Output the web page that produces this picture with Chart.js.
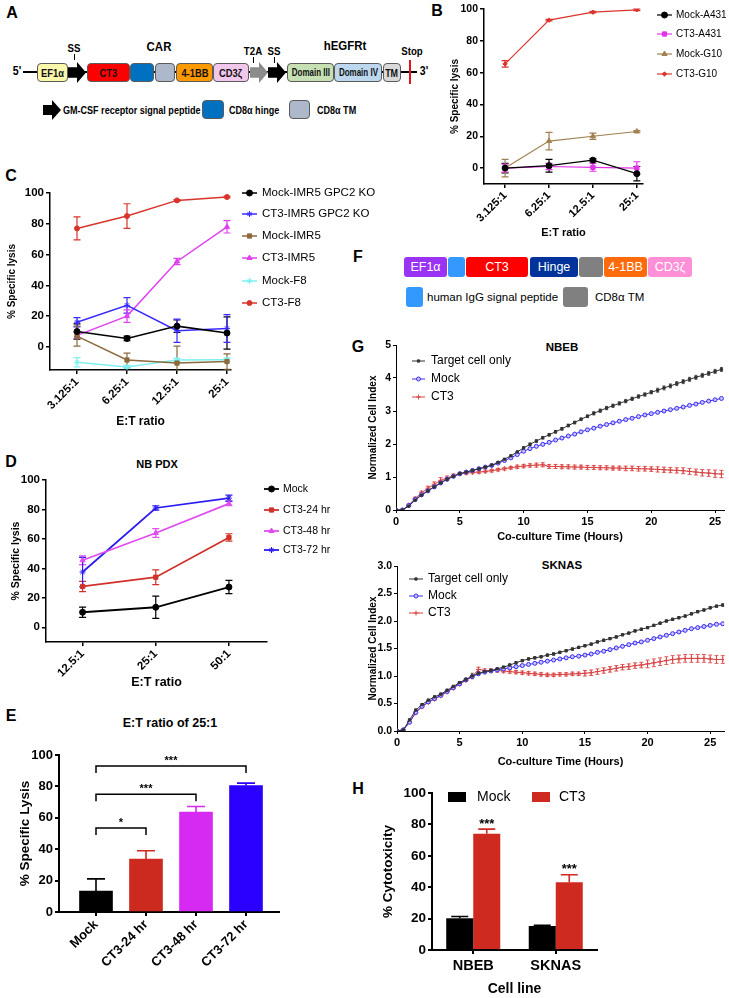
<!DOCTYPE html>
<html>
<head>
<meta charset="utf-8">
<script src="https://cdn.jsdelivr.net/npm/chart.js@4.4.1/dist/chart.umd.min.js"></script>
<style>
  body { margin: 0; background: #fff; }
  #fig { position: relative; width: 729px; height: 998px; overflow: hidden; background: #fff;
         font-family: Arial, "Liberation Sans", sans-serif; color: #000; }
</style>
</head>
<body>
<div id="fig"></div>
<script>
// ---------- data ----------
// B: cytotoxicity vs A431 / G10
const bRatios = ['3.125:1', '6.25:1', '12.5:1', '25:1'];
const bNames = ['Mock-A431', 'CT3-A431', 'Mock-G10', 'CT3-G10'];
const bMockA431 = [0, 1.5, 5, -3.5];
const bMockA431Err = [3, 4, 1, 4.5];
const bCT3A431 = [0, 1, 0.5, 0];
const bCT3A431Err = [2.5, 2, 2.5, 4];
const bMockG10 = [0, 17, 20, 23];
const bMockG10Err = [5.5, 5.5, 2, 0.5];
const bCT3G10 = [65.5, 93, 98, 99.5];
const bCT3G10Err = [2, 0.5, 0.5, 0.5];
const bTicks = [0, 20, 40, 60, 80, 100];

// C: IMR5 / GPC2 KO / F8
const cRatios = ['3.125:1', '6.25:1', '12.5:1', '25:1'];
const cNames = ['Mock-IMR5 GPC2 KO', 'CT3-IMR5 GPC2 KO', 'Mock-IMR5', 'CT3-IMR5', 'Mock-F8', 'CT3-F8'];
const cMockKO = [10, 5.5, 13.5, 9];
const cMockKOErr = [5, 1.5, 4, 10.5];
const cCT3KO = [16, 27, 10.5, 12];
const cCT3KOErr = [3, 5, 7.5, 9];
const cMockIMR5 = [7, -8.5, -10.5, -9.5];
const cMockIMR5Err = [6.5, 4.5, 11, 5];
const cCT3IMR5 = [7.5, 20, 55.5, 78];
const cCT3IMR5Err = [2, 4, 2, 4];
const cMockF8 = [-10, -13, -8.5, -8.3];
const cMockF8Err = [3, 1, 1, 1];
const cCT3F8 = [77, 85, 95.2, 97.4];
const cCT3F8Err = [7.5, 8, 0.5, 0.5];
const cTicks = [0, 20, 40, 60, 80, 100];

// D: NB PDX
const dRatios = ['12.5:1', '25:1', '50:1'];
const dNames = ['Mock', 'CT3-24 hr', 'CT3-48 hr', 'CT3-72 hr'];
const dMock = [10.2, 13.6, 27.3];
const dMockErr = [3.5, 7.5, 4.5];
const dCT3h24 = [27.7, 34, 61];
const dCT3h24Err = [3.5, 5, 2.5];
const dCT3h48 = [45.5, 64, 84];
const dCT3h48Err = [3, 3, 1.5];
const dCT3h72 = [37.5, 81, 87.7];
const dCT3h72Err = [10, 1.5, 2];
const dTicks = [0, 20, 40, 60, 80, 100];

// E: E:T ratio of 25:1
const eGroups = ['Mock', 'CT3-24 hr', 'CT3-48 hr', 'CT3-72 hr'];
const eLysis = [13.3, 33.7, 63.6, 80.5];
const eLysisErr = [7.8, 5.3, 3.6, 1.6];
const eSigPairs = [[0, 1], [0, 2], [0, 3]];
const eSigLevels = [53.5, 75, 93];
const eSigMarks = ['*', '***', '***'];
const eTicks = [0, 20, 40, 60, 80, 100];

// G: real-time cell index
const gNames = ['Target cell only', 'Mock', 'CT3'];
const gTimeTicks = [0, 5, 10, 15, 20, 25];
const nbebTime = [0, 0.5, 1, 1.5, 2, 2.5, 3, 3.5, 4, 4.5, 5, 5.5, 6, 6.5, 7, 7.5, 8, 8.5, 9, 9.5,
  10, 10.5, 11, 11.5, 12, 12.5, 13, 13.5, 14, 14.5, 15, 15.5, 16, 16.5, 17, 17.5, 18, 18.5, 19, 19.5,
  20, 20.5, 21, 21.5, 22, 22.5, 23, 23.5, 24, 24.5, 25, 25.5];
const nbebTarget = [0, 0, 0.12, 0.3, 0.45, 0.58, 0.7, 0.82, 0.93, 1.02, 1.1, 1.15, 1.2, 1.25, 1.3, 1.36, 1.44, 1.54, 1.64, 1.76,
  1.88, 1.99, 2.09, 2.19, 2.28, 2.37, 2.46, 2.56, 2.65, 2.75, 2.84, 2.93, 3.01, 3.09, 3.16, 3.23, 3.3, 3.37, 3.44, 3.5,
  3.57, 3.63, 3.7, 3.76, 3.83, 3.89, 3.96, 4.02, 4.08, 4.14, 4.2, 4.26];
const nbebTargetErr = [0, 0, 0.02, 0.02, 0.02, 0.02, 0.02, 0.02, 0.02, 0.02, 0.02, 0.02, 0.02, 0.02, 0.02, 0.02, 0.02, 0.02, 0.02, 0.02,
  0.04, 0.04, 0.04, 0.04, 0.04, 0.04, 0.04, 0.04, 0.04, 0.04, 0.04, 0.05, 0.05, 0.05, 0.05, 0.05, 0.05, 0.05, 0.05, 0.05,
  0.05, 0.06, 0.06, 0.06, 0.06, 0.06, 0.06, 0.06, 0.06, 0.06, 0.06, 0.06];
const nbebMock = [0, 0, 0.14, 0.32, 0.46, 0.58, 0.7, 0.82, 0.93, 1.02, 1.1, 1.15, 1.2, 1.25, 1.3, 1.35, 1.42, 1.5, 1.58, 1.68,
  1.78, 1.86, 1.93, 1.99, 2.05, 2.12, 2.18, 2.24, 2.3, 2.37, 2.43, 2.48, 2.54, 2.59, 2.64, 2.69, 2.74, 2.78, 2.83, 2.88,
  2.92, 2.96, 3.0, 3.04, 3.08, 3.12, 3.17, 3.21, 3.26, 3.3, 3.34, 3.38];
const nbebMockErr = [0, 0, 0.02, 0.02, 0.02, 0.02, 0.02, 0.02, 0.02, 0.02, 0.02, 0.02, 0.02, 0.02, 0.02, 0.02, 0.02, 0.02, 0.02, 0.02,
  0.03, 0.03, 0.03, 0.03, 0.03, 0.03, 0.03, 0.03, 0.03, 0.03, 0.03, 0.03, 0.03, 0.03, 0.03, 0.03, 0.03, 0.03, 0.03, 0.03,
  0.03, 0.03, 0.03, 0.03, 0.03, 0.03, 0.03, 0.03, 0.03, 0.03, 0.03, 0.03];
const nbebCT3 = [0, 0, 0.15, 0.35, 0.52, 0.66, 0.78, 0.9, 0.97, 1.04, 1.1, 1.12, 1.14, 1.15, 1.17, 1.19, 1.22, 1.25, 1.28, 1.31,
  1.33, 1.35, 1.36, 1.37, 1.32, 1.32, 1.31, 1.31, 1.3, 1.3, 1.29, 1.29, 1.28, 1.28, 1.27, 1.27, 1.26, 1.26, 1.25, 1.25,
  1.24, 1.23, 1.22, 1.21, 1.2, 1.19, 1.17, 1.15, 1.13, 1.12, 1.1, 1.09];
const nbebCT3Err = [0, 0, 0.03, 0.04, 0.05, 0.06, 0.07, 0.08, 0.06, 0.05, 0.04, 0.04, 0.04, 0.04, 0.04, 0.04, 0.04, 0.04, 0.04, 0.05,
  0.05, 0.05, 0.06, 0.06, 0.06, 0.06, 0.06, 0.06, 0.06, 0.06, 0.06, 0.06, 0.06, 0.06, 0.06, 0.06, 0.07, 0.07, 0.07, 0.07,
  0.07, 0.08, 0.08, 0.08, 0.08, 0.09, 0.09, 0.09, 0.1, 0.1, 0.11, 0.11];
const nbebTicks = [0, 1, 2, 3, 4, 5];

const sknasTime = [0, 0.5, 1, 1.5, 2, 2.5, 3, 3.5, 4, 4.5, 5, 5.5, 6, 6.5, 7, 7.5, 8, 8.5, 9, 9.5,
  10, 10.5, 11, 11.5, 12, 12.5, 13, 13.5, 14, 14.5, 15, 15.5, 16, 16.5, 17, 17.5, 18, 18.5, 19, 19.5,
  20, 20.5, 21, 21.5, 22, 22.5, 23, 23.5, 24, 24.5, 25, 25.5, 26];
const sknasTarget = [0, 0.02, 0.2, 0.38, 0.48, 0.56, 0.62, 0.67, 0.74, 0.81, 0.88, 0.94, 1.0, 1.05, 1.08, 1.1, 1.13, 1.16, 1.2, 1.24,
  1.28, 1.31, 1.33, 1.35, 1.38, 1.4, 1.43, 1.46, 1.49, 1.52, 1.55, 1.58, 1.62, 1.65, 1.68, 1.71, 1.75, 1.78, 1.82, 1.85,
  1.88, 1.92, 1.96, 2.0, 2.03, 2.06, 2.09, 2.13, 2.17, 2.2, 2.24, 2.27, 2.29];
const sknasTargetErr = [0, 0, 0.02, 0.02, 0.02, 0.02, 0.02, 0.02, 0.02, 0.02, 0.02, 0.02, 0.05, 0.03, 0.02, 0.02, 0.02, 0.02, 0.02, 0.02,
  0.02, 0.02, 0.02, 0.02, 0.02, 0.02, 0.02, 0.02, 0.02, 0.02, 0.02, 0.02, 0.02, 0.02, 0.02, 0.02, 0.02, 0.02, 0.02, 0.02,
  0.02, 0.02, 0.02, 0.02, 0.02, 0.02, 0.02, 0.02, 0.02, 0.02, 0.02, 0.02, 0.02];
const sknasMock = [0, 0.02, 0.16, 0.34, 0.45, 0.53, 0.59, 0.65, 0.72, 0.79, 0.86, 0.93, 0.99, 1.04, 1.07, 1.09, 1.11, 1.13, 1.15, 1.17,
  1.19, 1.21, 1.23, 1.25, 1.27, 1.29, 1.31, 1.33, 1.35, 1.36, 1.38, 1.4, 1.43, 1.45, 1.48, 1.51, 1.54, 1.57, 1.6, 1.62,
  1.65, 1.68, 1.71, 1.74, 1.77, 1.8, 1.83, 1.86, 1.88, 1.9, 1.92, 1.94, 1.95];
const sknasMockErr = [0, 0, 0.02, 0.02, 0.02, 0.02, 0.02, 0.02, 0.02, 0.02, 0.02, 0.02, 0.02, 0.02, 0.02, 0.02, 0.02, 0.02, 0.02, 0.02,
  0.02, 0.02, 0.02, 0.02, 0.02, 0.02, 0.02, 0.02, 0.02, 0.02, 0.02, 0.02, 0.02, 0.02, 0.02, 0.02, 0.02, 0.02, 0.02, 0.02,
  0.02, 0.02, 0.02, 0.02, 0.02, 0.02, 0.02, 0.02, 0.02, 0.02, 0.02, 0.02, 0.02];
const sknasCT3 = [0, 0.02, 0.16, 0.33, 0.44, 0.52, 0.58, 0.64, 0.71, 0.78, 0.85, 0.92, 0.99, 1.12, 1.1, 1.1, 1.1, 1.09, 1.08, 1.07,
  1.06, 1.05, 1.04, 1.03, 1.02, 1.02, 1.03, 1.03, 1.04, 1.04, 1.05, 1.06, 1.08, 1.1, 1.12, 1.14, 1.16, 1.17, 1.19, 1.2,
  1.22, 1.24, 1.26, 1.28, 1.3, 1.31, 1.32, 1.32, 1.32, 1.32, 1.31, 1.3, 1.3];
const sknasCT3Err = [0, 0, 0.02, 0.02, 0.02, 0.02, 0.02, 0.02, 0.02, 0.02, 0.02, 0.02, 0.02, 0.04, 0.03, 0.03, 0.03, 0.03, 0.03, 0.03,
  0.03, 0.03, 0.03, 0.03, 0.03, 0.03, 0.03, 0.03, 0.03, 0.03, 0.05, 0.05, 0.05, 0.05, 0.05, 0.05, 0.05, 0.05, 0.05, 0.05,
  0.07, 0.07, 0.07, 0.07, 0.07, 0.07, 0.07, 0.07, 0.07, 0.07, 0.07, 0.07, 0.07];
const sknasTicks = [0, 0.5, 1, 1.5, 2, 2.5, 3];

// H: cytotoxicity by cell line
const hLines = ['NBEB', 'SKNAS'];
const hNames = ['Mock', 'CT3'];
const hMock = [20.2, 15.3];
const hMockErr = [1.1, 0.5];
const hCT3 = [74, 43.2];
const hCT3Err = [3, 4.7];
const hStars = ['***', '***'];
const hTicks = [0, 20, 40, 60, 80, 100];

// ---------- helpers ----------
const F = 'Arial, "Liberation Sans", sans-serif';
const fig = document.getElementById('fig');

function put(css, html) {
  const d = document.createElement('div');
  d.style.cssText = 'position:absolute;' + css;
  if (html != null) d.innerHTML = html;
  fig.appendChild(d);
  return d;
}
function text(cx, cy, str, font, extra) {
  return put(`left:${cx}px;top:${cy}px;transform:translate(-50%,-50%);white-space:nowrap;line-height:1;font:${font};` + (extra || ''), str);
}
function canvas(x, y, w, h) {
  const c = document.createElement('canvas');
  c.width = w; c.height = h;
  c.style.cssText = `position:absolute;left:${x}px;top:${y}px;width:${w}px;height:${h}px`;
  fig.appendChild(c);
  return c;
}

// error bars (both ways, or only up for bars)
const errorBars = {
  id: 'errorBars',
  beforeDatasetsDraw(chart) {
    const ctx = chart.ctx, area = chart.chartArea;
    ctx.save();
    ctx.beginPath();
    ctx.rect(area.left - 20, area.top - 10, area.right - area.left + 40, area.bottom - area.top + 10);
    ctx.clip();
    chart.data.datasets.forEach((ds, i) => {
      if (!ds.errors) return;
      const meta = chart.getDatasetMeta(i);
      const ys = chart.scales[meta.yAxisID];
      ctx.lineWidth = ds.errorWidth || 1;
      meta.data.forEach((el, j) => {
        const e = ds.errors[j];
        if (!e) return;
        const raw = ds.data[j];
        const v = typeof raw === 'object' ? raw.y : raw;
        const top = ys.getPixelForValue(v + e);
        const bot = ys.getPixelForValue(ds.errorUp ? v : v - e);
        const cw = ds.capHalf || 3;
        ctx.strokeStyle = ds.errorColors ? ds.errorColors[j] : (ds.errorColor || ds.borderColor);
        ctx.beginPath();
        ctx.moveTo(el.x, top); ctx.lineTo(el.x, bot);
        ctx.moveTo(el.x - cw, top); ctx.lineTo(el.x + cw, top);
        if (!ds.errorUp) { ctx.moveTo(el.x - cw, bot); ctx.lineTo(el.x + cw, bot); }
        ctx.stroke();
      });
    });
    ctx.restore();
  }
};

// legend drawn at fixed spots, GraphPad style (line + marker) or boxes
const sideLegend = {
  id: 'sideLegend',
  afterDraw(chart, args, o) {
    if (!o || !o.ys) return;
    const ctx = chart.ctx;
    ctx.save();
    ctx.font = `${o.size}px ${F}`;
    ctx.textBaseline = 'middle';
    ctx.textAlign = 'left';
    chart.data.datasets.forEach((ds, i) => {
      const x = o.xs ? o.xs[i] : o.x;
      const tx = o.txs ? o.txs[i] : o.tx;
      const y = o.ys.length > 1 ? o.ys[i] : o.ys[0];
      if (o.box) {
        ctx.fillStyle = ds.backgroundColor;
        ctx.fillRect(x, y - o.boxH / 2, o.len, o.boxH);
      } else {
        ctx.strokeStyle = ds.borderColor;
        ctx.lineWidth = ds.borderWidth;
        ctx.beginPath(); ctx.moveTo(x, y); ctx.lineTo(x + o.len, y); ctx.stroke();
        ctx.fillStyle = ds.pointBackgroundColor;
        ctx.strokeStyle = ds.pointBorderColor;
        ctx.lineWidth = 1;
        Chart.helpers.drawPoint(ctx, { pointStyle: ds.pointStyle, rotation: 0, radius: ds.pointRadius, borderWidth: 1 }, x + o.len / 2, y);
      }
      ctx.fillStyle = '#000';
      ctx.fillText(ds.label, tx, y);
    });
    ctx.restore();
  }
};

// significance brackets / stars
const sigMarks = {
  id: 'sigMarks',
  afterDatasetsDraw(chart, args, o) {
    if (!o || !o.marks) return;
    const ctx = chart.ctx, x = chart.scales.x, y = chart.scales.y;
    ctx.save();
    ctx.strokeStyle = '#000'; ctx.fillStyle = '#000'; ctx.lineWidth = 1.5;
    ctx.font = `bold ${o.size}px ${F}`;
    ctx.textAlign = 'center'; ctx.textBaseline = 'alphabetic';
    if (o.pairs) {
      o.pairs.forEach((p, i) => {
        const x1 = x.getPixelForValue(p[0]), x2 = x.getPixelForValue(p[1]);
        const yl = y.getPixelForValue(o.levels[i]), yt = y.getPixelForValue(o.levels[i] - o.drop);
        ctx.beginPath();
        ctx.moveTo(x1, yt); ctx.lineTo(x1, yl); ctx.lineTo(x2, yl); ctx.lineTo(x2, yt);
        ctx.stroke();
        ctx.fillText(o.marks[i], (x1 + x2) / 2, yl - 2);
      });
    } else {
      const ds = chart.data.datasets[o.dataset], meta = chart.getDatasetMeta(o.dataset);
      meta.data.forEach((el, j) => {
        const top = y.getPixelForValue(ds.data[j] + ds.errors[j]);
        ctx.fillText(o.marks[j], el.x, top - 1.5);
      });
    }
    ctx.restore();
  }
};

Chart.register(errorBars, sideLegend, sigMarks);
Chart.defaults.font.family = F;
Chart.defaults.color = '#000';

function bold(size) { return { family: F, size: size, weight: 'bold' }; }

function valueAxis(c) {
  return {
    type: 'linear', min: c.min, max: c.max,
    afterBuildTicks: s => { s.ticks = c.ticks.map(v => ({ value: v })); },
    afterFit: s => { s.width = c.width; },
    border: { display: true, color: '#000', width: c.line },
    grid: { drawOnChartArea: false, drawTicks: true, tickLength: c.tickLen || 4, color: '#000', lineWidth: c.line },
    ticks: { color: '#000', padding: 2, font: bold(c.tickSize), callback: c.fmt || (v => v) },
    title: { display: true, text: c.title, color: '#000', padding: 0, font: bold(c.titleSize) }
  };
}

function indexAxis(c) {
  return {
    type: 'linear', min: c.min, max: c.max, offset: false,
    afterBuildTicks: s => { s.ticks = c.labels.map((_, i) => ({ value: i })); },
    afterFit: s => { s.height = c.height; },
    border: { display: true, color: '#000', width: c.line },
    grid: { offset: false, drawOnChartArea: false, drawTicks: true, tickLength: 4, color: '#000', lineWidth: c.line },
    ticks: { autoSkip: false, minRotation: 45, maxRotation: 45, padding: 1, color: '#000', font: bold(c.tickSize),
             callback: v => c.labels[v] },
    title: c.title ? { display: true, text: c.title, color: '#000', padding: 0, font: bold(c.titleSize) } : { display: false }
  };
}

function timeAxis(max, height) {
  return {
    type: 'linear', min: 0, max: max,
    afterBuildTicks: s => { s.ticks = gTimeTicks.map(v => ({ value: v })); },
    afterFit: s => { s.height = height; },
    border: { display: true, color: '#000', width: 1 },
    grid: { drawOnChartArea: false, drawTicks: true, tickLength: 3, color: '#000', lineWidth: 1 },
    ticks: { autoSkip: false, maxRotation: 0, padding: 2, color: '#000', font: bold(11) },
    title: { display: true, text: 'Co-culture Time (Hours)', color: '#000', padding: 0, font: bold(11) }
  };
}

function series(label, xs, ys, errs, color, style, extra) {
  return Object.assign({
    label: label,
    data: ys.map((v, i) => ({ x: xs[i], y: v })),
    errors: errs,
    borderColor: color, backgroundColor: color,
    pointBackgroundColor: color, pointBorderColor: color,
    pointStyle: style, pointRadius: 3, pointBorderWidth: 1,
    borderWidth: 1.5, tension: 0, capHalf: 3.5, errorWidth: 1.2
  }, extra || {});
}

function lineChart(cv, pad, datasets, x, y, legend) {
  return new Chart(cv, {
    type: 'line',
    data: { datasets: datasets },
    options: {
      responsive: false, animation: false, devicePixelRatio: 1,
      layout: { padding: pad },
      plugins: { legend: { display: false }, tooltip: { enabled: false }, sideLegend: legend },
      scales: { x: x, y: y }
    }
  });
}

// ---------- panel letters & titles ----------
const LET = `bold 16px ${F}`;
text(12, 13, 'A', LET); text(437, 11, 'B', LET); text(11, 176, 'C', LET); text(11, 462, 'D', LET);
text(11, 716, 'E', LET); text(358, 257, 'F', LET); text(358, 347, 'G', LET); text(358, 789, 'H', LET);
text(157, 464, 'NB PDX', `bold 11px ${F}`);
text(170, 723, 'E:T ratio of 25:1', `bold 12.5px ${F}`);
text(562, 347, 'NBEB', `bold 11.5px ${F}`);
text(562, 565, 'SKNAS', `bold 11.5px ${F}`);

// ---------- panel A: construct diagram ----------
function part(x, y, w, bg, lbl, size, squeeze) {
  put(`left:${x}px;top:${y}px;width:${w}px;height:19px;box-sizing:border-box;background:${bg};border:1px solid #5b5b5b;border-radius:4px;` +
      `display:flex;align-items:center;justify-content:center;font:bold ${size || 11}px ${F};color:#111;overflow:visible`,
      lbl ? `<span style="display:inline-block;transform:scaleX(${squeeze || .85});white-space:nowrap">${lbl}</span>` : '');
}
function arrow(x, y, w, h, bg) {
  put(`left:${x}px;top:${y}px;width:${w}px;height:${h}px;background:${bg};clip-path:polygon(0 25%,50% 25%,50% 0,100% 50%,50% 100%,50% 75%,0 75%)`);
}
function cond(cx, cy, str, size) {
  text(cx, cy, `<span style="display:inline-block;transform:scaleX(.88)">${str}</span>`, `bold ${size}px ${F}`);
}
function condLeft(x, cy, str) {
  text(x, cy, `<span style="display:inline-block;transform:scaleX(.86);transform-origin:left center">${str}</span>`,
       `bold 10.5px ${F}`, 'transform:translateY(-50%)');
}
put('left:23px;top:71px;width:394px;height:2px;background:#000');
cond(17, 71, "5'", 12); cond(424, 71, "3'", 12);
part(37, 63, 31, '#fbf8ab', 'EF1α');
arrow(68, 62, 18, 21, '#000');
part(87, 63, 43, '#ff0000', 'CT3');
part(130, 63, 24, '#0070c0', '');
part(155, 63, 20, '#adb9ca', '');
part(176, 63, 37, '#ff9900', '4-1BB');
part(213, 63, 36, '#f1c8ec', 'CD3ζ');
arrow(250, 62, 18, 21, '#8c8c8c');
arrow(268, 62, 18, 21, '#000');
part(287, 63, 47, '#c6e0b4', 'Domain III', 10, .8);
part(334, 63, 48, '#bdd7ee', 'Domain IV', 10, .8);
part(383, 63, 18, '#d9d9d9', 'TM', 10.5, .85);
put('left:409px;top:60px;width:2px;height:24px;background:#e8141b');
cond(74, 48, 'SS', 11); put('left:74px;top:54px;width:1px;height:6px;background:#000');
cond(159, 46, 'CAR', 13);
cond(253, 51, 'T2A', 11); put('left:253px;top:57px;width:1px;height:6px;background:#000');
cond(274, 51, 'SS', 11); put('left:274px;top:57px;width:1px;height:6px;background:#000');
cond(345, 45, 'hEGFRt', 13);
cond(412, 51, 'Stop', 11);
arrow(43, 100, 18, 20, '#000');
condLeft(63, 110, 'GM-CSF receptor signal peptide');
part(202, 100, 22, '#0070c0', '');
condLeft(229, 110, 'CD8α hinge');
part(289, 100, 21, '#adb9ca', '');
condLeft(317, 110, 'CD8α TM');

// ---------- panel F: second construct ----------
function fbox(x, w, bg, lbl) {
  put(`left:${x}px;top:257px;width:${w}px;height:20px;background:${bg};border-radius:3px;display:flex;align-items:center;` +
      `justify-content:center;color:#fff;font:12.5px ${F};white-space:nowrap`, lbl);
}
fbox(404, 43, '#9b33f5', 'EF1α');
fbox(448, 17, '#3399ff', '');
fbox(466, 62, '#ff0000', 'CT3');
fbox(530, 48, '#003399', 'Hinge');
fbox(579, 24, '#808080', '');
fbox(604, 43, '#ff6a0a', '4-1BB');
fbox(648, 44, '#ff8fd6', 'CD3ζ');
put('left:406px;top:287px;width:17px;height:20px;background:#3399ff;border-radius:3px');
text(427, 297, 'human IgG signal peptide', `11.5px ${F}`, 'transform:translateY(-50%)');
put('left:563px;top:287px;width:25px;height:20px;background:#808080;border-radius:3px');
text(595, 297, 'CD8α TM', `11.5px ${F}`, 'transform:translateY(-50%)');

// ---------- panel B ----------
const bIdx = bRatios.map((_, i) => i);
lineChart(canvas(449, 0, 280, 240), { left: 0, top: 9, right: 86, bottom: 0 }, [
  series(bNames[0], bIdx, bMockA431, bMockA431Err, '#000000', 'circle', { borderWidth: 1.2 }),
  series(bNames[1], bIdx, bCT3A431, bCT3A431Err, '#e233e8', 'rect', { borderWidth: 1.2 }),
  series(bNames[2], bIdx, bMockG10, bMockG10Err, '#a08050', 'triangle', { borderWidth: 1.2 }),
  series(bNames[3], bIdx, bCT3G10, bCT3G10Err, '#d9342b', 'rectRot', { borderWidth: 1.2, pointRadius: 2.2 })
], indexAxis({ labels: bRatios, min: -0.48, max: 3.14, height: 56, line: 1.5, tickSize: 11, title: 'E:T ratio', titleSize: 11 }),
   valueAxis({ min: -10, max: 100, ticks: bTicks, width: 35, line: 1.5, tickSize: 10.5, title: '% Specific lysis', titleSize: 10 }),
   { x: 208, len: 15, tx: 227, ys: [15, 34, 54, 74], size: 10 });

// ---------- panel C ----------
const cIdx = cRatios.map((_, i) => i);
lineChart(canvas(0, 165, 380, 264), { left: 6, top: 28, right: 149, bottom: 0 }, [
  series(cNames[0], cIdx, cMockKO, cMockKOErr, '#000000', 'circle'),
  series(cNames[1], cIdx, cCT3KO, cCT3KOErr, '#3b2bff', 'star'),
  series(cNames[2], cIdx, cMockIMR5, cMockIMR5Err, '#8c6a3c', 'rect'),
  series(cNames[3], cIdx, cCT3IMR5, cCT3IMR5Err, '#e040f0', 'triangle'),
  series(cNames[4], cIdx, cMockF8, cMockF8Err, '#7ff0f0', 'star'),
  series(cNames[5], cIdx, cCT3F8, cCT3F8Err, '#d9342b', 'circle', { pointRadius: 2.5 })
], indexAxis({ labels: cRatios, min: -0.54, max: 3.08, height: 59, line: 1.5, tickSize: 11.5, title: 'E:T ratio', titleSize: 12 }),
   valueAxis({ min: -15, max: 100, ticks: cTicks, width: 44, line: 1.5, tickSize: 11.5, title: '% Specific lysis', titleSize: 10 }),
   { x: 242, len: 15, tx: 262, ys: [28, 49, 71, 93, 116, 138], size: 11.5 });

// ---------- panel D ----------
const dIdx = dRatios.map((_, i) => i);
lineChart(canvas(0, 470, 380, 220), { left: 10, top: 10, right: 113, bottom: 0 }, [
  series(dNames[0], dIdx, dMock, dMockErr, '#000000', 'circle', { borderWidth: 1.8 }),
  series(dNames[1], dIdx, dCT3h24, dCT3h24Err, '#d0322a', 'rect', { borderWidth: 1.8 }),
  series(dNames[2], dIdx, dCT3h48, dCT3h48Err, '#e04cf0', 'triangle', { borderWidth: 1.8 }),
  series(dNames[3], dIdx, dCT3h72, dCT3h72Err, '#2d1cf0', 'star', { borderWidth: 1.8 })
], indexAxis({ labels: dRatios, min: -0.5, max: 2.52, height: 48, line: 1.5, tickSize: 11.5, title: 'E:T ratio', titleSize: 12.5 }),
   valueAxis({ min: -10, max: 100, ticks: dTicks, width: 36, line: 1.5, tickSize: 11.5, title: '% Specific lysis', titleSize: 10.5 }),
   { x: 264, len: 15, tx: 283, ys: [19, 40, 61, 80], size: 10.5 });

// ---------- panel E ----------
const eColors = ['#000000', '#cc2a1f', '#d62af2', '#2b00ff'];
new Chart(canvas(0, 740, 380, 258), {
  type: 'bar',
  data: { datasets: [{
    label: 'E:T 25:1',
    data: eGroups.map((_, i) => ({ x: i, y: eLysis[i] })),
    errors: eLysisErr, errorUp: true, errorColors: eColors, errorWidth: 1.6, capHalf: 9,
    backgroundColor: eColors, borderWidth: 0, barThickness: 33
  }] },
  options: {
    responsive: false, animation: false, devicePixelRatio: 1,
    layout: { padding: { left: 17, top: 15, right: 101, bottom: 0 } },
    plugins: { legend: { display: false }, tooltip: { enabled: false },
      sigMarks: { pairs: eSigPairs, levels: eSigLevels, marks: eSigMarks, drop: 4.5, size: 11 } },
    scales: {
      x: indexAxis({ labels: eGroups, min: -0.74, max: 3.66, height: 86, line: 2, tickSize: 13 }),
      y: valueAxis({ min: 0, max: 100, ticks: eTicks, width: 42, line: 2, tickSize: 13, title: '% Specific Lysis', titleSize: 13.5 })
    }
  }
});

// ---------- panel G ----------
lineChart(canvas(367, 330, 362, 214), { left: 0, top: 15, right: 2, bottom: 0 }, [
  series(gNames[0], nbebTime, nbebTarget, nbebTargetErr, '#333333', 'rect',
         { pointRadius: 1.6, borderWidth: 1, capHalf: 1.5, errorWidth: 0.8 }),
  series(gNames[1], nbebTime, nbebMock, nbebMockErr, '#3b2ef2', 'circle',
         { pointRadius: 2, pointBackgroundColor: '#c9c4ff', borderWidth: 1, capHalf: 1.5, errorWidth: 0.8 }),
  series(gNames[2], nbebTime, nbebCT3, nbebCT3Err, '#d94545', 'cross',
         { pointRadius: 2.5, borderWidth: 1, capHalf: 2, errorWidth: 0.9 })
], timeAxis(25.7, 34),
   valueAxis({ min: 0, max: 5, ticks: nbebTicks, width: 29, line: 1, tickLen: 3, tickSize: 10.5, title: 'Normalized Cell Index', titleSize: 10 }),
   { x: 45, len: 13, tx: 64, ys: [31, 49, 67], size: 12 });

lineChart(canvas(367, 550, 362, 219), { left: 0, top: 16, right: 2, bottom: 0 }, [
  series(gNames[0], sknasTime, sknasTarget, sknasTargetErr, '#333333', 'rect',
         { pointRadius: 1.6, borderWidth: 1, capHalf: 1.5, errorWidth: 0.8 }),
  series(gNames[1], sknasTime, sknasMock, sknasMockErr, '#3b2ef2', 'circle',
         { pointRadius: 2, pointBackgroundColor: '#c9c4ff', borderWidth: 1, capHalf: 1.5, errorWidth: 0.8 }),
  series(gNames[2], sknasTime, sknasCT3, sknasCT3Err, '#d94545', 'cross',
         { pointRadius: 2.5, borderWidth: 1, capHalf: 2, errorWidth: 0.9 })
], timeAxis(26.1, 38),
   valueAxis({ min: 0, max: 3, ticks: sknasTicks, width: 30, line: 1, tickLen: 3, tickSize: 10.5, fmt: v => v.toFixed(1),
               title: 'Normalized Cell Index', titleSize: 10 }),
   { x: 42, len: 14, tx: 61, ys: [29, 46, 63], size: 12 });

// ---------- panel H ----------
const hColors = ['#000000', '#cf2a1f'];
new Chart(canvas(380, 775, 349, 223), {
  type: 'bar',
  data: {
    labels: hLines,
    datasets: [
      { label: hNames[0], data: hMock, errors: hMockErr, errorUp: true, errorColor: hColors[0], errorWidth: 1.6, capHalf: 8.5,
        backgroundColor: hColors[0], categoryPercentage: 0.655, barPercentage: 1 },
      { label: hNames[1], data: hCT3, errors: hCT3Err, errorUp: true, errorColor: hColors[1], errorWidth: 1.6, capHalf: 8.5,
        backgroundColor: hColors[1], categoryPercentage: 0.655, barPercentage: 1 }
    ]
  },
  options: {
    responsive: false, animation: false, devicePixelRatio: 1,
    layout: { padding: { left: 0, top: 18, right: 132, bottom: 0 } },
    plugins: { legend: { display: false }, tooltip: { enabled: false },
      sigMarks: { dataset: 1, marks: hStars, size: 13 },
      sideLegend: { box: true, xs: [68, 152], txs: [97, 179], ys: [22], len: 18, boxH: 10, size: 14 } },
    scales: {
      x: {
        type: 'category', offset: true,
        afterFit: s => { s.height = 48; },
        border: { display: true, color: '#000', width: 2 },
        grid: { offset: false, drawOnChartArea: false, drawTicks: true, tickLength: 4, color: '#000', lineWidth: 2 },
        ticks: { padding: 3, color: '#000', font: bold(14.5) },
        title: { display: true, text: 'Cell line', color: '#000', padding: 0, font: bold(14) }
      },
      y: valueAxis({ min: 0, max: 100, ticks: hTicks, width: 52, line: 2, tickSize: 13.5, title: '% Cytotoxicity', titleSize: 13.5 })
    }
  }
});
</script>
</body>
</html>
